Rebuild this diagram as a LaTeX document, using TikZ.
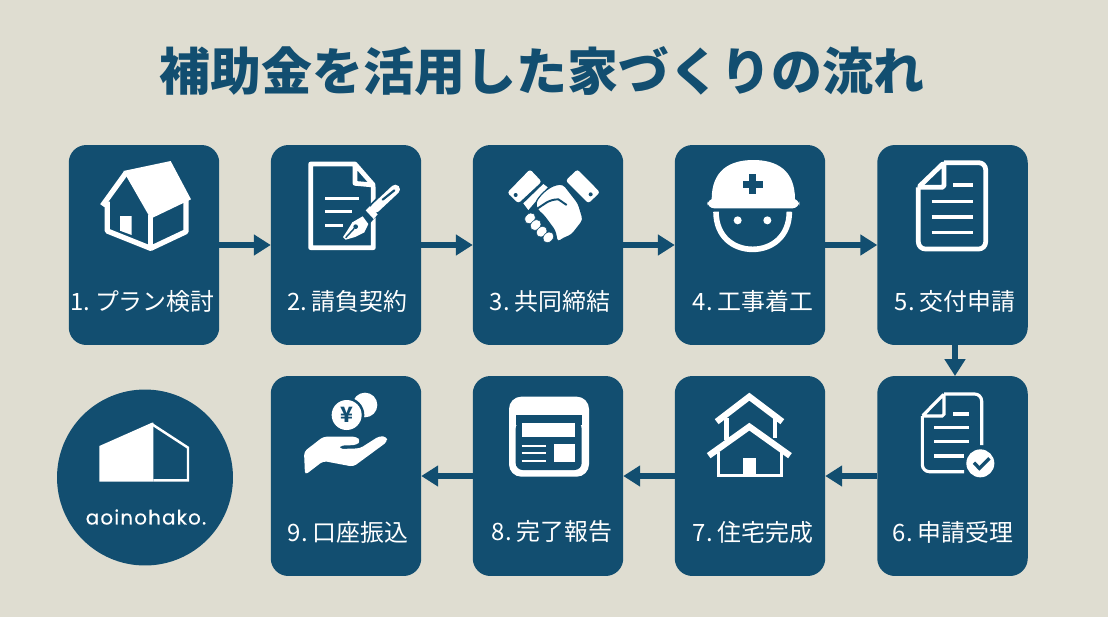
\documentclass[tikz,border=0pt]{standalone}
\usepackage{fontspec}
\setmainfont{Noto Sans CJK JP}
\newfontfamily\logofont[LetterSpace=6,FakeBold=0.4]{Poppins}
\usetikzlibrary{arrows.meta}
\definecolor{pagebg}{HTML}{DFDDD1}
\definecolor{boxblue}{HTML}{124E70}
\newcommand{\tightgap}{\spaceskip .12em\relax}
\tikzset{
	stepbox/.style={rectangle, rounded corners=10pt, fill=boxblue, minimum width=3.01cm, minimum height=4cm, inner sep=0pt, outer sep=0pt},
	steptext/.style={text=white, font=\fontsize{13.6}{16}\selectfont\tightgap, inner sep=0pt},
	flowarrow/.style={draw=boxblue, line width=3pt, -{Triangle[length=9.6pt,width=11.4pt]}},
	iconline/.style={draw=white, line width=2.7pt, line join=round},
	iconthin/.style={draw=white, line width=1.8pt},
	iconfill/.style={fill=white, draw=none},
	iconcut/.style={fill=boxblue, draw=none}
}
\begin{document}
\begin{tikzpicture}[x=0.02cm,y=-0.02cm]
			\useasboundingbox (0,0) rectangle (1108,616);
			\fill[pagebg] (-5,-5) rectangle (1113,621);
			\node[text=boxblue, font=\fontsize{29}{32}\bfseries\selectfont, inner sep=0pt] (heading) at (542,71) {補助金を活用した家づくりの流れ};

			\node[stepbox] (plan) at (144,245) {};
			\node[stepbox] (contract) at (346,245) {};
			\node[stepbox] (agreement) at (548,245) {};
			\node[stepbox] (kickoff) at (750,245) {};
			\node[stepbox] (apply) at (952.5,245) {};
			\node[stepbox] (accept) at (952.5,476) {};
			\node[stepbox] (finish) at (750,476) {};
			\node[stepbox] (report) at (548,476) {};
			\node[stepbox] (payment) at (346,476) {};

			\node[steptext] (plantext) at (142.5,301.5) {1. プラン検討};
			\node[steptext] (contracttext) at (347.5,301.5) {2. 請負契約};
			\node[steptext] (agreementtext) at (550,301.5) {3. 共同締結};
			\node[steptext] (kickofftext) at (753,301.5) {4. 工事着工};
			\node[steptext] (applytext) at (955,301.5) {5. 交付申請};
			\node[steptext] (accepttext) at (953,532) {6. 申請受理};
			\node[steptext] (finishtext) at (753,532) {7. 住宅完成};
			\node[steptext] (reporttext) at (552,532) {8. 完了報告};
			\node[steptext] (paymenttext) at (348,532) {9. 口座振込};

			\draw[flowarrow] (plan) -- (contract);
			\draw[flowarrow] (contract) -- (agreement);
			\draw[flowarrow] (agreement) -- (kickoff);
			\draw[flowarrow] (kickoff) -- (apply);
			\draw[flowarrow] ([xshift=.05cm]apply.south) -- ([xshift=.05cm]accept.north);
			\draw[flowarrow] (accept) -- (finish);
			\draw[flowarrow] (finish) -- (report);
			\draw[flowarrow] (report) -- (payment);

			\node[circle, fill=boxblue, minimum size=3.52cm, inner sep=0pt, outer sep=0pt] (logo) at (145,477.5) {};
			\node[text=white, font=\logofont\fontsize{11.3}{13}\selectfont, inner sep=0pt] (logotext) at (146,517) {aoinohako.};
			\begin{scope}[shift={(40,375)},scale=1/3]
				\fill[iconfill] (178,213) -- (336,143) -- (340,143) -- (340,320) -- (178,320) -- cycle;
				\draw[white, line width=1.4pt] (335,147) -- (444,218) -- (444,316) -- (340,316);
			\end{scope}

			\begin{scope}[shift={(60,140)},scale=1/3]
				\fill[iconfill] (190,93) -- (332,63) -- (393,178) -- (272,236) -- cycle;
				\draw[iconline, line width=3pt] (197,100) -- (127,197);
				\draw[iconline, line width=3pt] (142,185) -- (142,273) -- (272,325) -- (378,275) -- (378,180);
				\draw[iconline, line width=3pt] (272,225) -- (272,325);
				\fill[iconfill] (180,228) -- (215,228) -- (215,285) -- (180,272) -- cycle;
			\end{scope}

			\begin{scope}[shift={(60,140)},scale=1/3]
				\draw[iconline] (940,140) -- (940,323) -- (752,323) -- (752,72) -- (885,72) -- (940,135) -- (885,130) -- (885,72);
				\draw[iconthin] (795,175) -- (898,175);
				\draw[iconthin] (795,215) -- (875,215);
				\draw[iconthin] (795,257) -- (850,257);
			\end{scope}
			\begin{scope}[shift={(335,175)},scale=1/3]
				\draw[boxblue, line width=7.6pt] (55,175) -- (100,120) -- (184,40);
				\draw[white, line width=5.3pt, line cap=round] (120,100) -- (181,43);
				\draw[boxblue, line width=1.2pt, line cap=round] (143,74) -- (178,46);
				\fill[iconfill] (92,106) -- (105,93) -- (128,118) -- (116,132) -- cycle;
				\fill[iconfill] (83,124) -- (100,147) -- (88,172) -- (60,186) -- (32,194) -- (24,186) -- (38,165) -- (52,142) -- cycle;
				\fill[iconcut] (62,155) circle (7);
				\draw[boxblue, line width=.8pt] (32,188) -- (58,160);
			\end{scope}

			\begin{scope}[shift={(500,160)},scale=1/3]
				\fill[iconfill, rounded corners=1.5pt] (22,98) -- (90,28) -- (125,65) -- (55,130) -- cycle;
				\fill[iconcut] (47,105) circle (6);
				\fill[iconfill, rounded corners=1.5pt] (197,62) -- (232,28) -- (300,97) -- (265,130) -- cycle;
				\fill[iconcut] (272,103) circle (6);
				\fill[iconfill] (70,130) -- (130,72) -- (143,82) -- (85,150) -- cycle;
				\filldraw[fill=white, draw=boxblue, line width=.7pt, rounded corners=2pt] (106,128) .. controls (125,100) and (150,75) .. (190,72) -- (235,130) -- (250,180) -- (215,225) -- (190,235) -- (172,248) -- (165,212) -- (130,165) -- (112,150) -- cycle;
				\draw[boxblue, line width=1.1pt] (112,146) .. controls (130,135) and (145,118) .. (175,118) -- (200,135);
				\filldraw[fill=white, draw=boxblue, line width=.3pt, rotate around={45:(90,175)}] (90,175) ellipse (18 and 14);
				\filldraw[fill=white, draw=boxblue, line width=.3pt, rotate around={45:(107,195)}] (107,195) ellipse (18 and 14);
				\filldraw[fill=white, draw=boxblue, line width=.3pt, rotate around={45:(125,215)}] (125,215) ellipse (18 and 14);
				\filldraw[fill=white, draw=boxblue, line width=.3pt, rotate around={45:(145,232)}] (145,232) ellipse (18 and 14);
			\end{scope}

			\begin{scope}[shift={(470,140)},scale=1/3]
				\fill[iconfill] (725,178) .. controls (725,90) and (780,60) .. (850,60) .. controls (920,60) and (975,90) .. (975,178) -- cycle;
				\fill[iconfill, rounded corners=4pt] (712,176) rectangle (988,205);
				\fill[iconcut] (838,103) rectangle (859,163);
				\fill[iconcut] (818,123) rectangle (879,143);
				\draw[white, line width=3.2pt] (738,215) .. controls (738,290) and (790,328) .. (848,328) .. controls (905,328) and (958,290) .. (958,215);
				\fill[iconfill] (803,241) circle (12);
				\fill[iconfill] (892,241) circle (12);
			\end{scope}

			\begin{scope}[shift={(820,140)},scale=1/3]
				\draw[iconline, rounded corners=4pt] (372,68) -- (497,68) -- (497,327) -- (295,327) -- (295,142);
				\draw[iconline, rounded corners=1pt] (295,142) -- (372,68) -- (372,142) -- cycle;
				\draw[iconthin] (400,135) -- (458,135);
				\draw[iconthin] (335,184) -- (458,184);
				\draw[iconthin] (335,231) -- (458,231);
				\draw[iconthin] (335,278) -- (458,278);
			\end{scope}

			\begin{scope}[shift={(820,140)},scale=1/3]
				\draw[iconthin, rounded corners=4pt] (432,995) -- (307,995) -- (307,828);
				\draw[iconthin, rounded corners=4pt] (372,762) -- (485,762) -- (485,915);
				\draw[iconthin, rounded corners=1pt] (307,828) -- (372,762) -- (372,828) -- cycle;
				\draw[iconthin] (400,822) -- (448,822);
				\draw[iconthin] (343,862) -- (448,862);
				\draw[iconthin] (343,905) -- (448,905);
				\draw[iconthin] (343,948) -- (432,948);
				\fill[iconfill] (481,970) circle (42);
				\draw[boxblue, line width=1.9pt] (462,968) -- (478,985) -- (508,955);
			\end{scope}

			\begin{scope}[shift={(470,375)},scale=1/3]
				\draw[iconline] (770,130) -- (770,195);
				\draw[iconline] (915,130) -- (915,190);
				\draw[white, line width=3.6pt] (740,140) -- (838,65) -- (937,140);
				\draw[iconthin] (745,230) -- (745,302) -- (935,302) -- (935,230);
				\draw[white, line width=3.6pt] (716,242) -- (838,155) -- (960,242);
				\fill[iconfill] (820,248) rectangle (857,302);
			\end{scope}

			\begin{scope}[shift={(470,375)},scale=1/3]
				\fill[iconfill, rounded corners=7pt] (117,65) rectangle (357,305);
				\fill[iconcut, rounded corners=4pt] (137,140) -- (137,285) -- (335,285) -- (335,140) -- cycle;
				\fill[iconcut] (137,120) rectangle (335,150);
				\fill[iconfill] (155,143) rectangle (315,187);
				\fill[iconfill] (253,207) rectangle (315,262);
				\draw[white, line width=1.3pt] (155,212) -- (228,212);
				\draw[white, line width=1.3pt] (155,235) -- (228,235);
				\draw[white, line width=1.3pt] (155,258) -- (228,258);
			\end{scope}

			\begin{scope}[shift={(300,385)},scale=1/3]
				\fill[iconfill] (195,60) circle (37);
				\fill[iconcut] (140,90) circle (53);
				\fill[iconfill] (140,90) circle (45);
				\node[text=boxblue, font=\bfseries\fontsize{12}{13}\selectfont, inner sep=0pt] (yenmark) at (140,90) {¥};
				\fill[iconfill, rounded corners=2pt] (12,200) -- (70,155) -- (170,155) -- (182,168) -- (170,180) -- (118,182) -- (118,192) -- (180,190) -- (238,153) -- (260,155) -- (262,170) -- (160,245) -- (70,228) -- (15,270) -- cycle;
			\end{scope}
		\end{tikzpicture}
\end{document}
